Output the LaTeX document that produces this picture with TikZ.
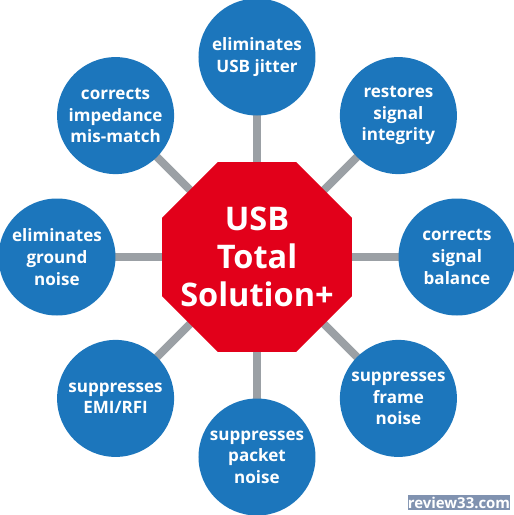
\documentclass[tikz,border=0pt]{standalone}
\usepackage{fontspec}
\setmainfont{Open Sans}
\usetikzlibrary{shapes.geometric, backgrounds}
\definecolor{usbred}{RGB}{226,0,26}
\definecolor{usbblue}{RGB}{28,118,188}
\definecolor{linkgray}{RGB}{155,160,165}
\definecolor{markgray}{RGB}{128,146,176}

\tikzset{
  bubble/.style={circle, fill=usbblue, minimum size=2.34cm, inner sep=0pt,
    text=white, align=center, font=\bfseries\fontsize{9.7}{12.3}\selectfont},
  hub/.style={regular polygon, regular polygon sides=8, fill=usbred,
    minimum size=4.11cm, inner sep=0pt},
  hubtext/.style={text=white, align=center,
    font=\bfseries\fontsize{18.5}{21.8}\selectfont},
  link/.style={draw=linkgray, line width=4.5pt},
}

\begin{document}
\begin{tikzpicture}
    \useasboundingbox (-5.14,-5.16) rectangle (5.14,5.14);
    \node[hub, label={[hubtext]center:USB\\Total\\Solution+}] (usb) at (0,0) {};
    \foreach \name/\ang/\txt in {
        jitter/90/{eliminates\\USB jitter},
        integrity/45/{restores\\signal\\integrity},
        balance/0/{corrects\\signal\\balance},
        frame/-45/{suppresses\\frame\\noise},
        packet/-90/{suppresses\\packet\\noise},
        emi/-135/{suppresses\\EMI/RFI},
        ground/180/{eliminates\\ground\\noise},
        impedance/135/{corrects\\impedance\\mis-match}} {
        \node[bubble] (\name) at (\ang:4cm) {\txt};
        \begin{scope}[on background layer]
            \draw[link] (usb.center) -- (\name.center);
        \end{scope}
    }
    \node[fill=markgray, text=white, minimum width=2.04cm, minimum height=0.3cm,
        inner sep=0pt, font=\bfseries\fontsize{8.5}{8.5}\selectfont] (mark) at (4.04,-4.91) {review33.com};
\end{tikzpicture}
\end{document}
